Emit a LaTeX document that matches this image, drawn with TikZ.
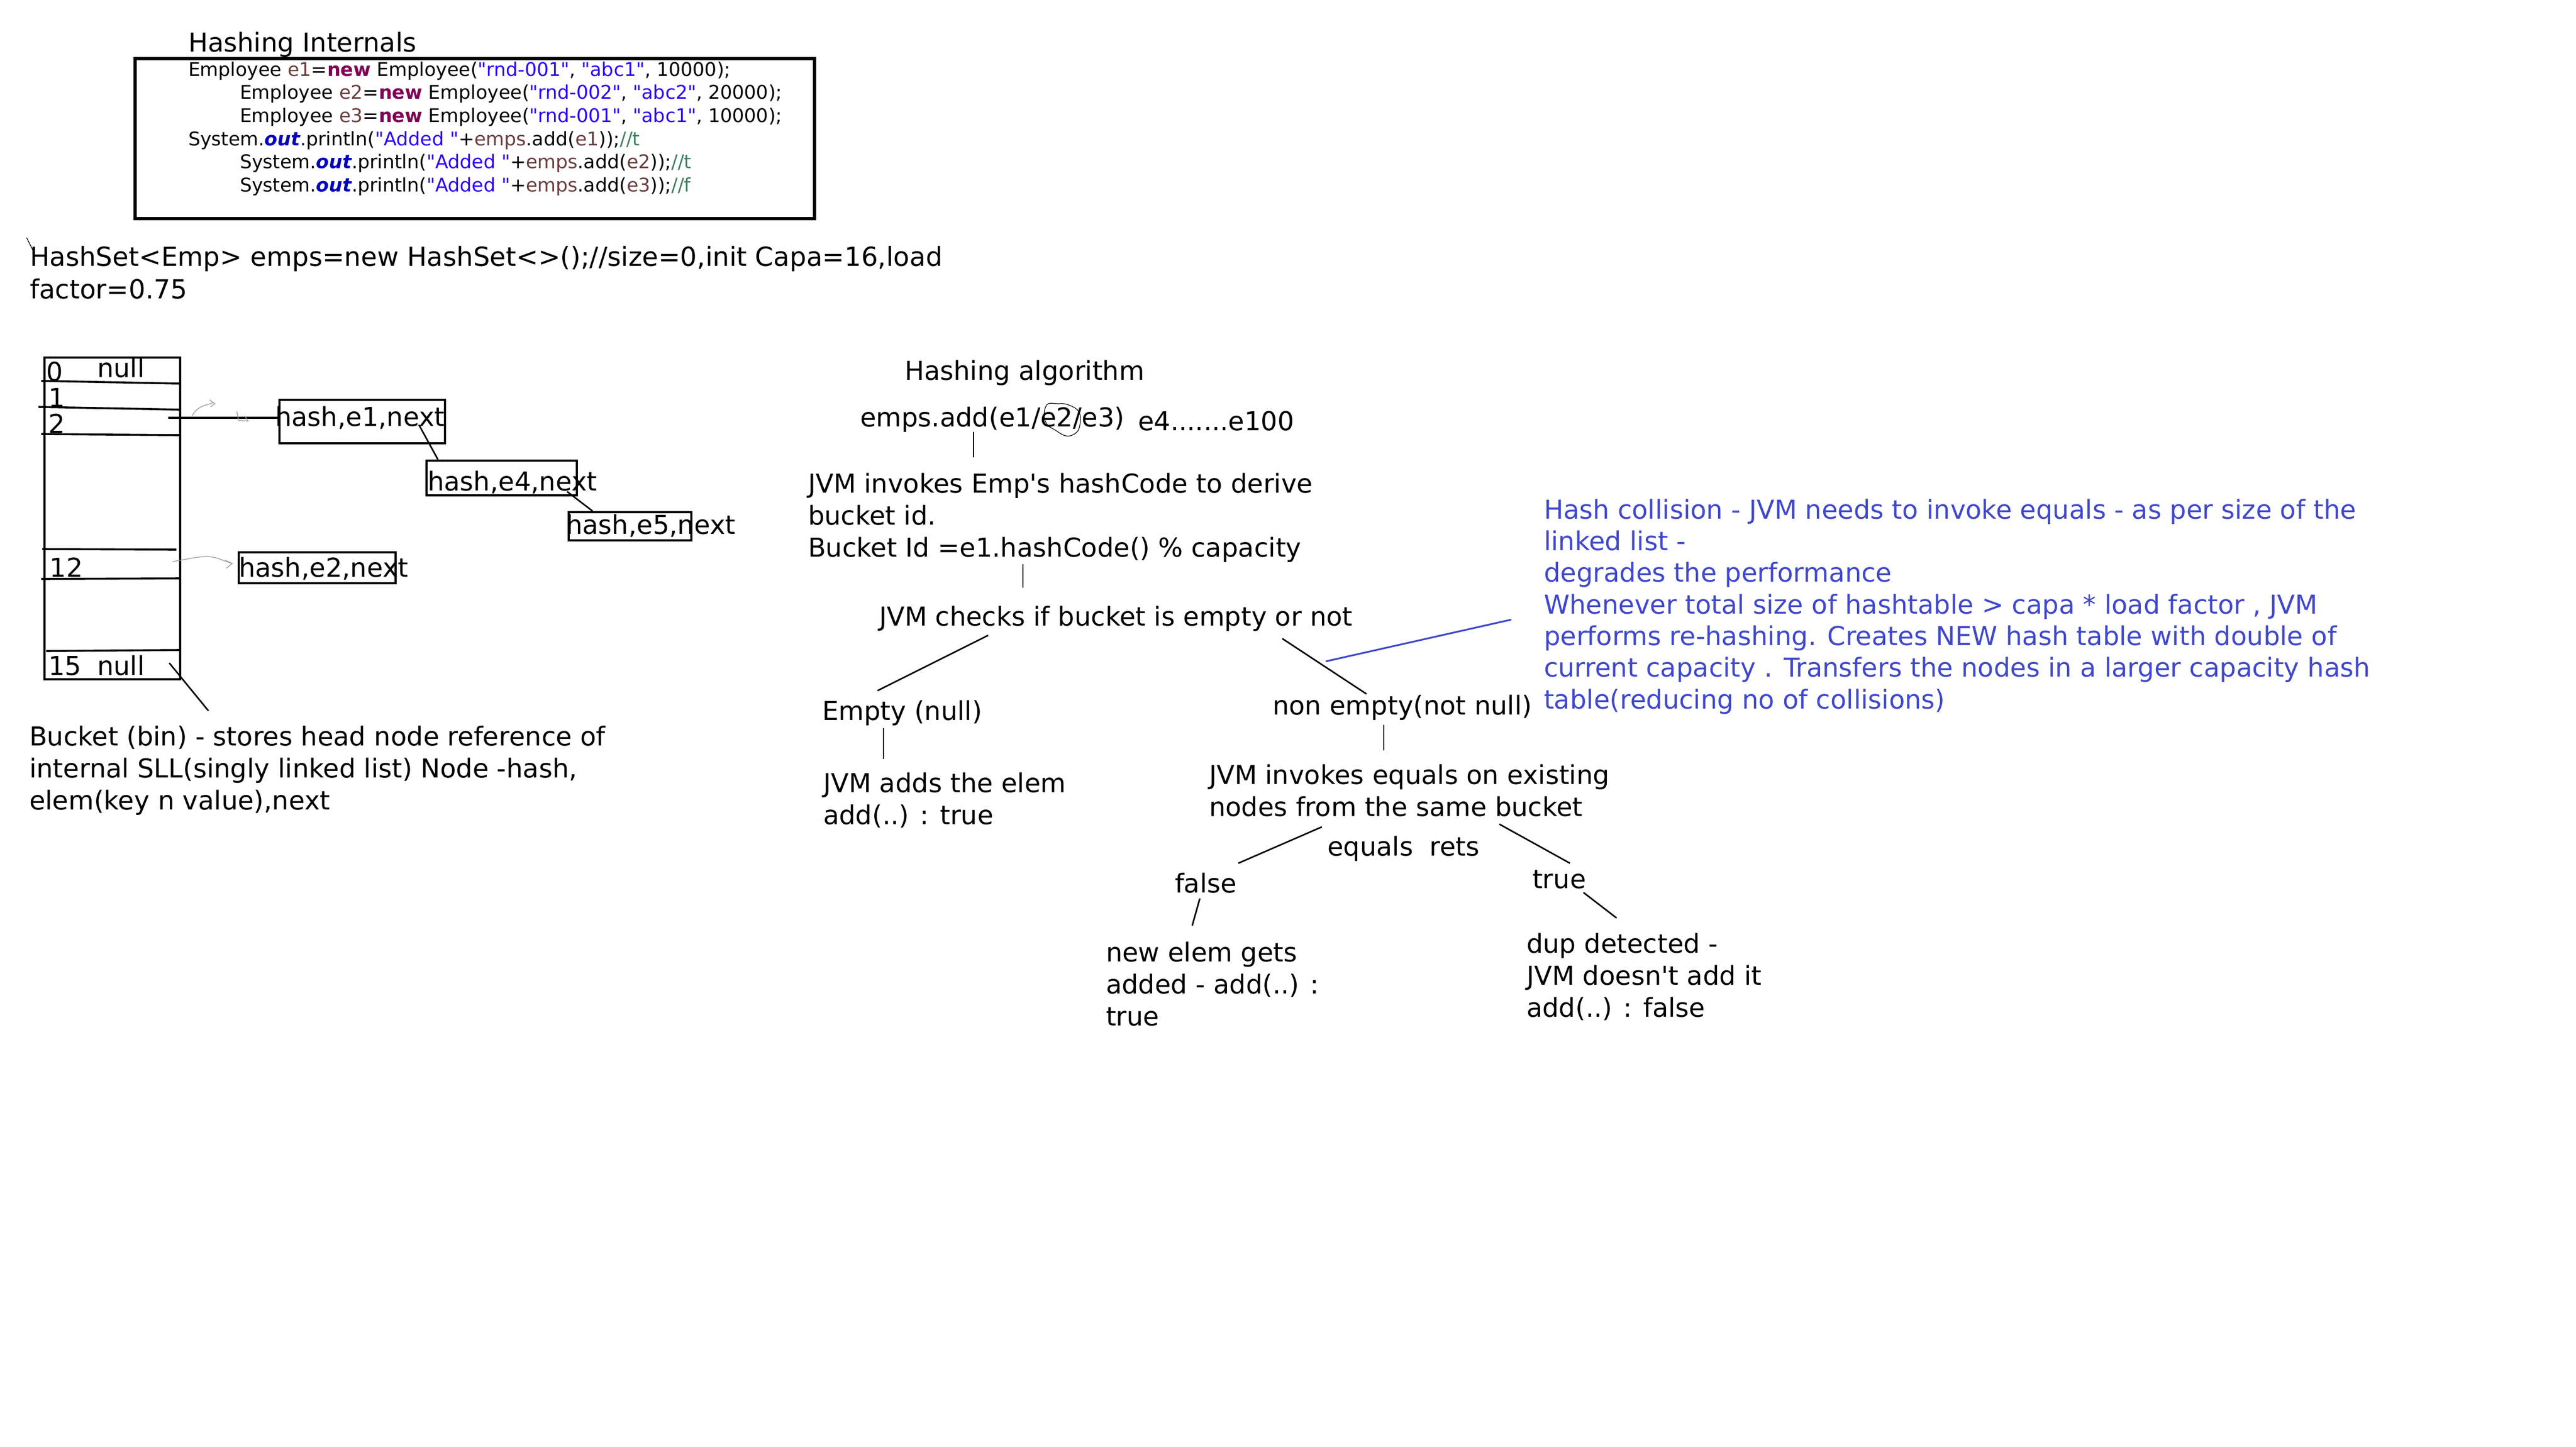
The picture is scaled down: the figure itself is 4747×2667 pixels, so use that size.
\documentclass[tikz,border=0pt]{standalone}
\usepackage{fontspec}
\setmainfont{DejaVu Sans}
\usetikzlibrary{calc,arrows.meta}
\definecolor{hashblue}{RGB}{63,72,204}
\definecolor{cvar}{RGB}{106,62,62}
\definecolor{ckw}{RGB}{127,0,85}
\definecolor{cstr}{RGB}{42,0,255}
\definecolor{cfield}{RGB}{0,0,192}
\definecolor{ccom}{RGB}{63,127,95}
\newcommand\mainfs{\fontsize{12}{14.7}\selectfont}
\newcommand\codefs{\fontsize{8.7}{10.675}\selectfont}
\newcommand\cv[1]{\textcolor{cvar}{#1}}
\newcommand\ckw{\textbf{\textcolor{ckw}{new}}}
\newcommand\cs[1]{\textcolor{cstr}{\textquotedbl#1\textquotedbl}}
\newcommand\cout{\textbf{\textit{\textcolor{cfield}{out}}}}
\newcommand\cc[1]{\textcolor{ccom}{#1}}
\begin{document}
\begin{tikzpicture}[x=0.25pt,y=-0.25pt,
  txt/.style={anchor=base west,inner sep=0pt,outer sep=0pt,align=left,font=\mainfs},
  codetxt/.style={anchor=base west,inner sep=0pt,outer sep=0pt,align=left,font=\codefs},
  bluetxt/.style={txt,text=hashblue},
  ln/.style={line width=0.7pt},
  rowline/.style={line width=0.9pt},
  nodebox/.style={draw,line width=1pt,inner sep=0pt,anchor=north west},
  sketch/.style={draw=gray!75,line width=0.35pt}]
\fill[white] (0,0) rectangle (4747,2667);
\useasboundingbox (0,0) rectangle (4747,2667);

% ---- title and code box (base anchor = baseline of last line)
\node[txt] (title) at (347,95) {Hashing Internals};
\node[draw,line width=1.6pt,inner sep=0pt,anchor=north west,minimum width=313pt,minimum height=73.75pt] (codebox) at (246,105) {};
\node[codetxt] (code) at (347,353.5) {%
Employee \cv{e1}=\ckw{} Employee(\cs{rnd-001}, \cs{abc1}, 10000);\\
\hspace*{23.75pt}Employee \cv{e2}=\ckw{} Employee(\cs{rnd-002}, \cs{abc2}, 20000);\\
\hspace*{23.75pt}Employee \cv{e3}=\ckw{} Employee(\cs{rnd-001}, \cs{abc1}, 10000);\\
System.\cout.println(\cs{Added }+\cv{emps}.add(\cv{e1}));\cc{//t}\\
\hspace*{23.75pt}System.\cout.println(\cs{Added }+\cv{emps}.add(\cv{e2}));\cc{//t}\\
\hspace*{23.75pt}System.\cout.println(\cs{Added }+\cv{emps}.add(\cv{e3}));\cc{//f}};

\draw[line width=0.3pt] (49,438) -- (61,462);
\node[txt,font=\fontsize{12.1}{15}\selectfont] (hashset) at (55,550) {HashSet<Emp> emps=new HashSet<>();//size=0,init Capa=16,load\\factor=0.75};

% ---- bucket table
\node[draw,line width=1pt,inner sep=0pt,anchor=north west,minimum width=62.5pt,minimum height=148.25pt] (table) at (80,657) {};
\draw[rowline] (76,702) -- (332,707);
\draw[rowline] (71,750) -- (330,755);
\draw[rowline] (76,800) -- (330,802);
\draw[rowline] (78,1012) -- (325,1013);
\draw[rowline] (76,1067) -- (332,1066);
\draw[rowline] (85,1200) -- (330,1198);
\node[txt] (r0) at (85,702) {0};
\node[txt] (r0null) at (179,695) {null};
\node[txt] (r1) at (89,750) {1};
\node[txt] (r2) at (89,798) {2};
\node[txt] (r12) at (92,1063) {12};
\node[txt] (r15) at (89,1244) {15};
\node[txt] (r15null) at (179,1244) {null};

% ---- linked nodes
\node[nodebox,minimum width=76.25pt,minimum height=20pt] (e1box) at (513,735) {};
\node[txt] (e1txt) at (507,785) {hash,e1,next};
\node[nodebox,minimum width=69.25pt,minimum height=16pt] (e4box) at (784,847) {};
\node[txt] (e4txt) at (788,904) {hash,e4,next};
\node[nodebox,minimum width=56.5pt,minimum height=13pt] (e5box) at (1046,942) {};
\node[txt] (e5txt) at (1043,984) {hash,e5,next};
\node[nodebox,minimum width=72.25pt,minimum height=14.25pt] (e2box) at (438,1016) {};
\node[txt] (e2txt) at (440,1063) {hash,e2,next};

\coordinate (b2) at (310,770);
\draw[line width=0.9pt] (b2) -- (b2 -| e1box.west);
\coordinate (e1nx) at (772,783);
\draw[ln] (e1nx) -- ($(e4box.north west)+(23,0)$);
\coordinate (e4nx) at (1045,906);
\draw[ln] (e4nx) -- ($(e5box.north west)+(46,0)$);
\coordinate (b12) at (318,1035);
\draw[sketch] (b12) .. controls (345,1031) and (365,1025) .. (385,1026)
  .. controls (400,1027) and (412,1034) .. ($(e2box.west)+(-10,-8)$);
\draw[sketch] ($(e2box.west)+(-23,-14)$) -- ($(e2box.west)+(-10,-8)$) -- ($(e2box.west)+(-21,1)$);
% faint scribbles near bucket 2
\draw[sketch] (354,767) .. controls (358,758) and (366,750) .. (381,746) -- (394,742);
\draw[sketch] (386,737) -- (396,744) -- (388,750);
\draw[sketch] (436,758) -- (440,775) -- (457,776) -- (451,766);

\coordinate (b15) at (312,1222);
\coordinate (bucketnote) at (384,1310);
\draw[ln] (b15) -- (bucketnote);
\node[txt,font=\fontsize{12}{14.75}\selectfont] (bucket) at (54,1492) {Bucket (bin) - stores head node reference of\\internal SLL(singly linked list) Node -hash,\\elem(key n value),next};

% ---- hashing algorithm
\node[txt] (algo) at (1667,700) {Hashing algorithm};
\node[txt] (add) at (1585,786) {emps.add(e1/e2/e3)};
\node[txt] (more) at (2097,793) {e4.......e100};
\draw[line width=0.3pt] plot[smooth cycle,tension=0.6] coordinates {(1930,745) (1948,744) (1965,745) (1985,755) (1991,770) (1987,793) (1973,803) (1960,802) (1945,793) (1930,783) (1924,765)};
\coordinate (a1) at (1794,796);
\coordinate (a2) at (1794,843);
\draw[ln] (a1) -- (a2);
\node[txt] (derive) at (1489,1026) {JVM invokes Emp\textquotesingle s hashCode to derive\\bucket id.\\Bucket Id =e1.hashCode() \% capacity};
\coordinate (a3) at (1885,1040);
\coordinate (a4) at (1885,1083);
\draw[ln] (a3) -- (a4);
\node[txt] (checks) at (1620,1153) {JVM checks if bucket is empty or not};
\coordinate (c1) at (1821,1171);
\coordinate (c2) at (1617,1273);
\draw[ln] (c1) -- (c2);
\coordinate (c3) at (2363,1177);
\coordinate (c4) at (2518,1279);
\draw[ln] (c3) -- (c4);
\coordinate (bl1) at (2443,1219);
\coordinate (bl2) at (2785,1142);
\draw[draw=hashblue,line width=0.8pt] (bl1) -- (bl2);

\node[txt] (empty) at (1515,1327) {Empty (null)};
\coordinate (d1) at (1628,1342);
\coordinate (d2) at (1628,1399);
\draw[ln] (d1) -- (d2);
\node[txt] (adds) at (1517,1519) {JVM adds the elem\\add(..) : true};

\node[txt] (nonempty) at (2345,1317) {non empty(not null)};
\coordinate (f1) at (2550,1336);
\coordinate (f2) at (2550,1383);
\draw[ln] (f1) -- (f2);
\node[txt] (equals) at (2228,1504) {JVM invokes equals on existing\\nodes from the same bucket};
\coordinate (g1) at (2436,1524);
\coordinate (g2) at (2282,1591);
\draw[ln] (g1) -- (g2);
\coordinate (g3) at (2763,1519);
\coordinate (g4) at (2893,1591);
\draw[ln] (g3) -- (g4);
\node[txt] (rets) at (2446,1577) {equals\ \ rets};
\node[txt] (false) at (2165,1645) {false};
\node[txt] (true) at (2824,1637) {true};
\coordinate (h1) at (2211,1656);
\coordinate (h2) at (2197,1706);
\draw[ln] (h1) -- (h2);
\coordinate (h3) at (2918,1645);
\coordinate (h4) at (2979,1692);
\draw[ln] (h3) -- (h4);
\node[txt] (newelem) at (2038,1890) {new elem gets\\added - add(..) :\\true};
\node[txt] (dup) at (2813,1874) {dup detected -\\JVM doesn\textquotesingle t add it\\add(..) : false};

% ---- blue note
\node[bluetxt,font=\fontsize{12}{14.58}\selectfont] (note) at (2845,1306) {Hash collision - JVM needs to invoke equals - as per size of the\\linked list -\\degrades the performance\\Whenever total size of hashtable > capa * load factor , JVM\\performs re-hashing. Creates NEW hash table with double of\\current capacity . Transfers the nodes in a larger capacity hash\\table(reducing no of collisions)};
\end{tikzpicture}
\end{document}
